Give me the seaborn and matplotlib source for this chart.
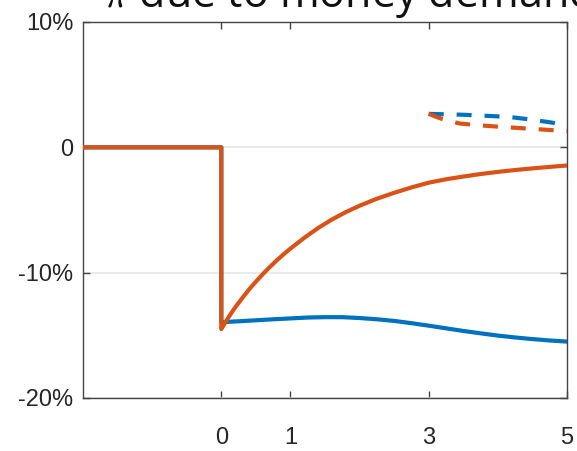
import numpy as np
import pandas as pd
import seaborn as sns
import matplotlib
matplotlib.use("Agg")
import matplotlib.pyplot as plt
from matplotlib.ticker import FuncFormatter

# Impulse responses (percent), shock at t = 0
t_orange = [-2, 0, 0, 0.05, 0.1, 0.15, 0.2, 0.3, 0.4, 0.5, 0.6, 0.7, 0.8, 0.9,
            1.0, 1.2, 1.4, 1.6, 1.8, 2.0, 2.25, 2.5, 2.75, 3.0, 3.25, 3.5,
            3.75, 4.0, 4.25, 4.5, 4.75, 5.0]
v_orange = [0, 0, -14.5, -14.05, -13.6, -13.18, -12.78, -12.05, -11.35, -10.72,
            -10.12, -9.56, -9.03, -8.54, -8.08, -7.22, -6.44, -5.76, -5.17,
            -4.66, -4.1, -3.63, -3.2, -2.82, -2.55, -2.33, -2.13, -1.96, -1.81,
            -1.68, -1.56, -1.45]

t_blue = [-2, 0, 0, 0.25, 0.5, 0.75, 1.0, 1.25, 1.5, 1.75, 2.0, 2.25, 2.5,
          2.75, 3.0, 3.25, 3.5, 3.75, 4.0, 4.25, 4.5, 4.75, 5.0]
v_blue = [0, 0, -13.95, -13.88, -13.8, -13.72, -13.65, -13.58, -13.55, -13.55,
          -13.62, -13.72, -13.85, -14.03, -14.23, -14.44, -14.65, -14.84,
          -15.02, -15.17, -15.3, -15.41, -15.5]

# Long-run responses (dashed)
t_blue_lr = [3.0, 3.5, 4.0, 4.25, 4.5, 4.75, 5.0]
v_blue_lr = [2.67, 2.6, 2.47, 2.37, 2.2, 2.0, 1.78]
t_orange_lr = [3.0, 3.1, 3.2, 3.3, 3.45, 3.75, 4.0, 4.5, 5.0]
v_orange_lr = [2.67, 2.45, 2.25, 2.1, 1.9, 1.75, 1.65, 1.47, 1.3]

x_ticks = [0, 1, 3, 5]
y_ticks = [-20, -10, 0, 10]

BLUE = "#0072BD"
ORANGE = "#D95319"

sns.set_theme(style="white")
plt.rcParams["font.family"] = ["Liberation Sans", "DejaVu Sans"]
plt.rcParams["mathtext.fontset"] = "cm"

fig = plt.figure(figsize=(5.77, 4.51), dpi=100)
ax = fig.add_axes([83 / 577, 53 / 451, 484 / 577, 376 / 451])

def line(t, v, color, dashed=False, z=2):
    df = pd.DataFrame({"t": t, "v": v})
    kw = dict(dashes=(3.6, 3.1)) if dashed else {}
    sns.lineplot(data=df, x="t", y="v", ax=ax, color=color, lw=3,
                 sort=False, estimator=None, zorder=z, **kw)

line(t_blue, v_blue, BLUE, z=2)
line(t_orange, v_orange, ORANGE, z=3)
line(t_blue_lr, v_blue_lr, BLUE, dashed=True, z=4)
line(t_orange_lr, v_orange_lr, ORANGE, dashed=True, z=5)

ax.set_xlim(-2, 5)
ax.set_ylim(-20, 10)
ax.set_xticks(x_ticks)
ax.set_yticks(y_ticks)
ax.yaxis.set_major_formatter(FuncFormatter(lambda v, p: "0" if v == 0 else f"{v:.0f}%"))
ax.set_xlabel("")
ax.set_ylabel("")

ax.grid(axis="y", color="#e6e6e6", lw=1.2, zorder=0)
ax.set_axisbelow(True)
for s in ax.spines.values():
    s.set_color("#444444")
    s.set_linewidth(1.0)
ax.tick_params(axis="both", direction="in", length=5, width=1.0, color="#444444",
               labelsize=17, labelcolor="#262626",
               top=True, right=True, bottom=True, left=True)
ax.tick_params(axis="x", pad=21)
ax.tick_params(axis="y", pad=7)

fig.text(103 / 577, 1 - 7 / 451, r"$\pi$ due to money demand", fontsize=31,
         family=["Open Sans", "DejaVu Sans"], color="#111111",
         ha="left", va="baseline")

fig.savefig("out.png", dpi=100)
